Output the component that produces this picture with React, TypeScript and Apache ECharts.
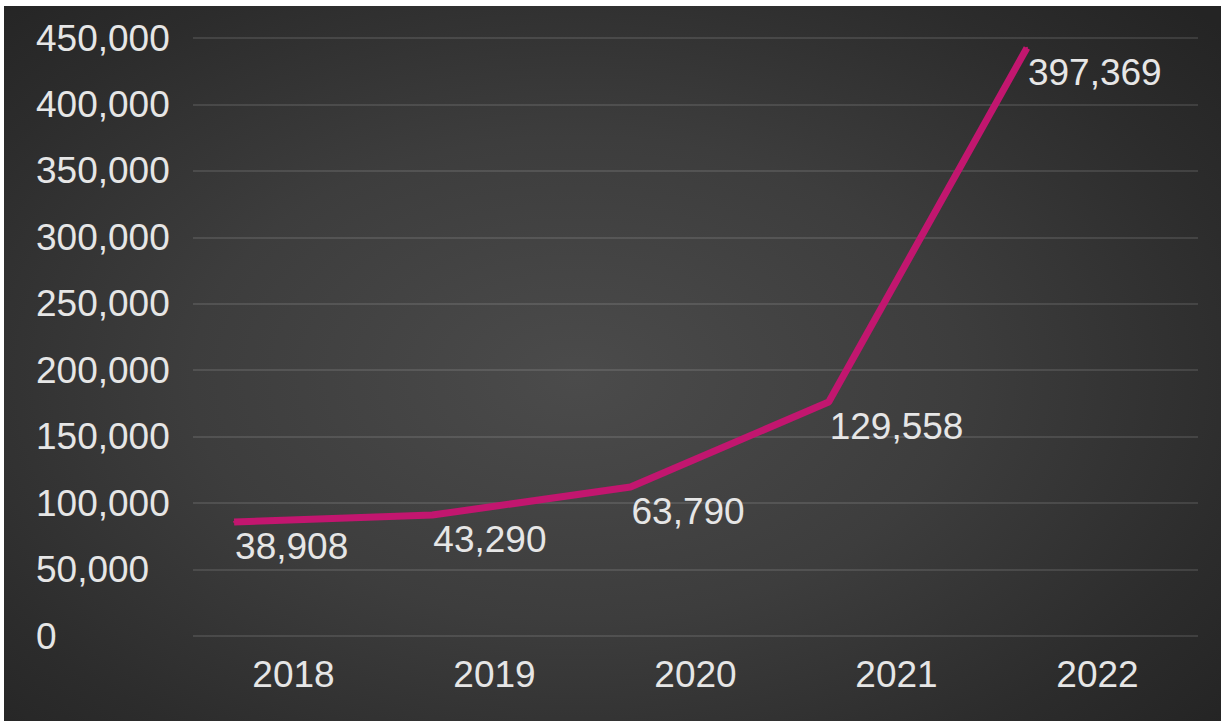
import React, { useEffect, useRef } from "react";
import * as echarts from "echarts";

const years = ["2018", "2019", "2020", "2021", "2022"];
// Positions of the line as drawn in the picture
const plottedValues = [85800, 91000, 112100, 176100, 442500];
// Values printed next to the points
const labelValues = [38908, 43290, 63790, 129558, 397369];
const yMin = 0;
const yMax = 450000;
const yStep = 50000;

const fmt = (v: number) => v.toLocaleString("en-US");

export default function App() {
  const ref = useRef<HTMLDivElement>(null);
  useEffect(() => {
    if (!ref.current) return;
    const chart = echarts.init(ref.current, undefined, { renderer: "svg" });
    const font = "'Liberation Sans', Arial, sans-serif";
    const textColor = "#e6e6e6";
    chart.setOption({
      animation: false,
      backgroundColor: "transparent",
      grid: [
        { left: 189, right: 23, top: 32, bottom: 85 },
        { left: 131, width: 991, top: 32, bottom: 85 },
      ],
      xAxis: [
        {
          type: "category",
          gridIndex: 0,
          data: years,
          boundaryGap: true,
          axisLine: { show: false },
          axisTick: { show: false },
          axisLabel: {
            color: textColor,
            fontSize: 37,
            fontFamily: font,
            margin: 20,
          },
        },
        {
          type: "category",
          gridIndex: 1,
          data: years,
          boundaryGap: true,
          show: false,
        },
      ],
      yAxis: [
        {
          type: "value",
          gridIndex: 0,
          min: yMin,
          max: yMax,
          interval: yStep,
          axisLine: { show: false },
          axisTick: { show: false },
          splitLine: { lineStyle: { color: "rgba(255,255,255,0.11)", width: 2 } },
          axisLabel: {
            color: textColor,
            fontSize: 37,
            fontFamily: font,
            align: "left",
            margin: 157,
            formatter: (v: number) => fmt(v),
          },
        },
        {
          type: "value",
          gridIndex: 1,
          min: yMin,
          max: yMax,
          interval: yStep,
          show: false,
        },
      ],
      series: [
        {
          type: "line",
          xAxisIndex: 1,
          yAxisIndex: 1,
          data: plottedValues,
          symbol: "circle",
          symbolSize: 2,
          itemStyle: { color: "#c2166f" },
          lineStyle: { color: "#c2166f", width: 7 },
          label: {
            show: true,
            position: [2, 7],
            align: "left",
            verticalAlign: "top",
            color: textColor,
            fontSize: 37,
            fontFamily: font,
            formatter: (p: any) => fmt(labelValues[p.dataIndex]),
          },
        },
      ],
    });
    return () => chart.dispose();
  }, []);

  return (
    <div
      style={{
        position: "fixed",
        left: 0,
        top: 0,
        width: 1221,
        height: 724,
        background: "#ffffff",
      }}
    >
      <div
        style={{
          position: "absolute",
          left: 4,
          top: 6,
          width: 1217,
          height: 715,
          background:
            "radial-gradient(ellipse 70% 75% at 47% 52%, #4b4b4b 0%, #3d3d3d 45%, #2c2c2c 80%, #242424 100%)",
        }}
      >
        <div ref={ref} style={{ width: 1217, height: 715 }} />
      </div>
    </div>
  );
}
